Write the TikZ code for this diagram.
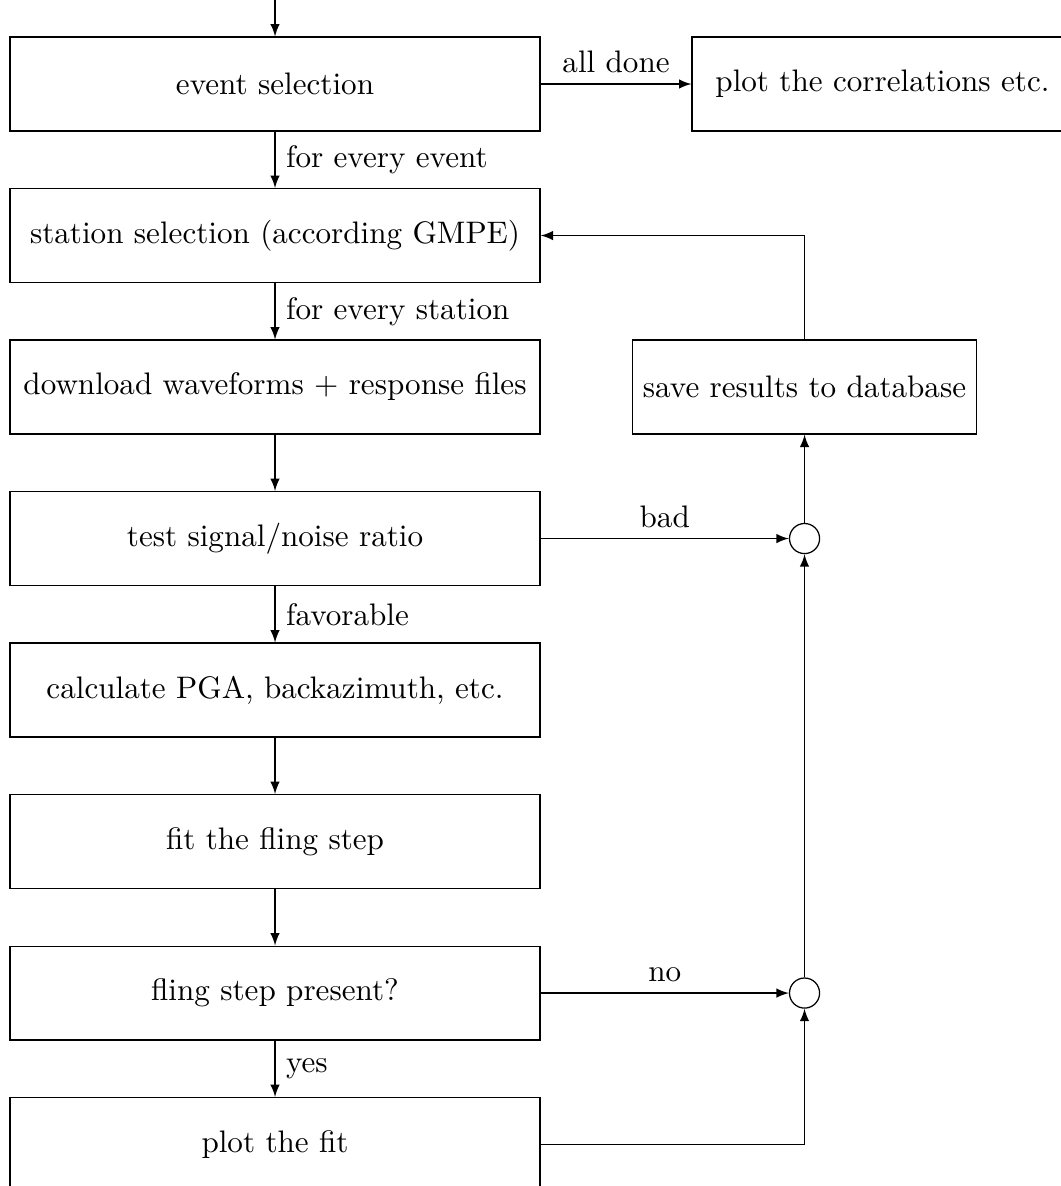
\documentclass[tikz,border=0pt]{standalone}
\usetikzlibrary{positioning}

\begin{document}
\begin{tikzpicture}[
  node distance=1.711cm,
  box/.style={draw, align=center, minimum width=5.985cm, minimum height=1.06cm},
  sidebox/.style={draw, align=center, minimum height=1.06cm},
  junction/.style={draw, circle, inner sep=0pt, minimum size=0.34cm},
  arrow/.style={-latex}
]
\useasboundingbox (-3.106,0.949) rectangle (8.876,-12.445);
\node[box] (sel) {event selection};
\node[box, below of=sel] (sta) {station selection (according GMPE)};
\node[box, below of=sta] (dl) {download waveforms + response files};
\node[box, below of=dl] (snr) {test signal/noise ratio};
\node[box, below of=snr] (pga) {calculate PGA, backazimuth, etc.};
\node[box, below of=pga] (fit) {fit the fling step};
\node[box, below of=fit] (present) {fling step present?};
\node[box, below of=present] (plotfit) {plot the fit};
\node[sidebox, minimum width=4.3cm, right of=sel, node distance=6.86cm] (corr) {plot the correlations etc.};
\node[sidebox, right of=dl, node distance=5.98cm] (save) {save results to database};
\node[junction, right of=snr, node distance=5.98cm] (jbad) {};
\node[junction, right of=present, node distance=5.98cm] (jno) {};
\coordinate[above of=sel, node distance=1.2cm] (start);
\draw[arrow] (start) -- (sel);
\draw[arrow] (sel) -- node[above] {all done} (corr);
\draw[arrow] (sel) -- node[right] {for every event} (sta);
\draw[arrow] (sta) -- node[right] {for every station} (dl);
\draw[arrow] (dl) -- (snr);
\draw[arrow] (snr) -- node[right] {favorable} (pga);
\draw[arrow] (snr) -- node[above] {bad} (jbad);
\draw[arrow] (pga) -- (fit);
\draw[arrow] (fit) -- (present);
\draw[arrow] (present) -- node[right] {yes} (plotfit);
\draw[arrow] (present) -- node[above] {no} (jno);
\draw[arrow] (plotfit) -| (jno);
\draw[arrow] (jno) -- (jbad);
\draw[arrow] (jbad) -- (save);
\draw[arrow] (save) |- (sta);
\end{tikzpicture}
\end{document}
